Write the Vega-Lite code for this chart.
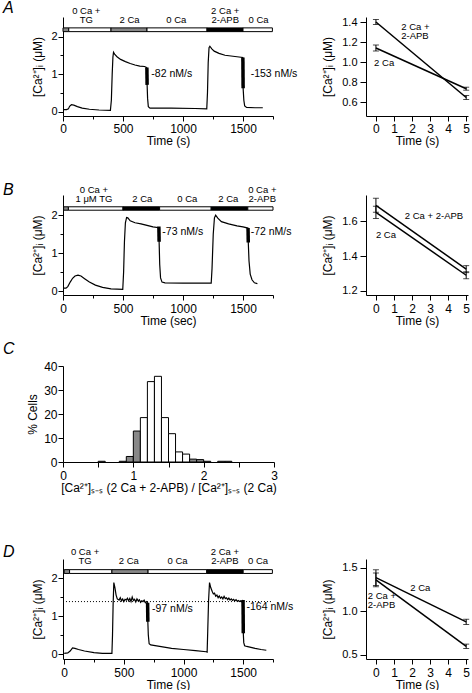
{
  "$schema": "https://vega.github.io/schema/vega-lite/v6.json",
  "padding": {"left": 2, "top": 0, "right": 0, "bottom": 0},
  "background": "white",
  "config": {
    "font": "Liberation Sans",
    "view": {"stroke": null},
    "axis": {"domainColor": "black", "tickColor": "black", "labelColor": "black", "titleColor": "black", "grid": false, "labelFontSize": 11, "titleFontSize": 12, "titleFontWeight": "normal", "labelFlush": false, "labelOverlap": false, "tickSize": 5, "labelPadding": 2, "domainWidth": 1, "tickWidth": 1, "tickCount": 50, "labelFont": "Liberation Sans", "titleFont": "Liberation Sans"},
    "axisX": {"titlePadding": 1, "labelFontSize": 12, "labelPadding": 2, "labelOverlap": false},
    "axisY": {"titlePadding": 6, "labelPadding": 1},
    "text": {"font": "Liberation Sans", "color": "black"}
  },
  "datasets": {
    "traceA": [
      {"t":0,"y":0.05},{"t":30,"y":0.05},{"t":45,"y":0.07},{"t":55,"y":0.14},{"t":70,"y":0.18},{"t":90,"y":0.17},{"t":120,"y":0.13},{"t":160,"y":0.09},{"t":220,"y":0.06},{"t":300,"y":0.04},{"t":395,"y":0.03},{"t":403,"y":0.3},{"t":410,"y":1.0},{"t":416,"y":1.45},{"t":421,"y":1.58},{"t":430,"y":1.53},{"t":450,"y":1.46},{"t":480,"y":1.39},{"t":520,"y":1.33},{"t":560,"y":1.28},{"t":600,"y":1.24},{"t":640,"y":1.21},{"t":680,"y":1.2},{"t":698,"y":1.17},{"t":701,"y":0.71},{"t":705,"y":0.35},{"t":711,"y":0.13},{"t":725,"y":0.09},{"t":900,"y":0.09},{"t":1100,"y":0.08},{"t":1198,"y":0.07},{"t":1204,"y":0.5},{"t":1210,"y":1.3},{"t":1217,"y":1.7},{"t":1224,"y":1.74},{"t":1240,"y":1.67},{"t":1260,"y":1.61},{"t":1300,"y":1.55},{"t":1350,"y":1.5},{"t":1400,"y":1.48},{"t":1450,"y":1.46},{"t":1498,"y":1.44},{"t":1501,"y":0.62},{"t":1507,"y":0.3},{"t":1514,"y":0.15},{"t":1530,"y":0.11},{"t":1600,"y":0.1},{"t":1665,"y":0.1}
    ],
    "thickA": [
      {"seg":"a","t":699,"y":1.17},{"seg":"a","t":701,"y":0.71},
      {"seg":"b","t":1499,"y":1.44},{"seg":"b","t":1501,"y":0.62}
    ],
    "barsA": [
      {"s":0,"e":48,"c":"TG"},{"s":48,"e":400,"c":"0 Ca"},{"s":400,"e":700,"c":"2 Ca"},{"s":700,"e":1200,"c":"0 Ca"},{"s":1200,"e":1500,"c":"2 Ca + 2-APB"},{"s":1500,"e":1745,"c":"0 Ca"}
    ],
    "labelsA": [
      {"t":194,"l1":"0 Ca +","l2":"TG"},{"t":555,"l1":"","l2":"2 Ca"},{"t":944,"l1":"","l2":"0 Ca"},{"t":1352,"l1":"2 Ca +","l2":"2-APB"},{"t":1630,"l1":"","l2":"0 Ca"}
    ],
    "annA": [
      {"t":736,"y":1.01,"text":"-82 nM/s"},{"t":1564,"y":1.01,"text":"-153 nM/s"}
    ],
    "rightA": [
      {"series":"apb","t":0,"y":1.40,"err":0.025},{"series":"apb","t":5,"y":0.645,"err":0.02},
      {"series":"ca","t":0,"y":1.14,"err":0.03},{"series":"ca","t":5,"y":0.733,"err":0.015}
    ],
    "rlabA": [
      {"t":1.4,"y":1.26,"l1":"2 Ca +","l2":"2-APB"},{"t":-0.1,"y":0.995,"l1":"","l2":"2 Ca"}
    ],
    "traceB": [
      {"t":0,"y":0.08},{"t":25,"y":0.08},{"t":40,"y":0.12},{"t":60,"y":0.24},{"t":80,"y":0.34},{"t":100,"y":0.4},{"t":125,"y":0.42},{"t":150,"y":0.4},{"t":180,"y":0.33},{"t":220,"y":0.24},{"t":270,"y":0.16},{"t":330,"y":0.1},{"t":400,"y":0.06},{"t":498,"y":0.05},{"t":505,"y":0.5},{"t":512,"y":1.3},{"t":520,"y":1.8},{"t":530,"y":1.94},{"t":540,"y":1.93},{"t":560,"y":1.85},{"t":600,"y":1.8},{"t":650,"y":1.77},{"t":700,"y":1.73},{"t":750,"y":1.69},{"t":798,"y":1.67},{"t":801,"y":1.3},{"t":806,"y":0.7},{"t":813,"y":0.35},{"t":825,"y":0.24},{"t":850,"y":0.22},{"t":1000,"y":0.21},{"t":1150,"y":0.21},{"t":1235,"y":0.21},{"t":1242,"y":0.6},{"t":1252,"y":1.5},{"t":1262,"y":1.93},{"t":1272,"y":2.0},{"t":1290,"y":1.92},{"t":1320,"y":1.83},{"t":1380,"y":1.77},{"t":1450,"y":1.72},{"t":1500,"y":1.69},{"t":1541,"y":1.66},{"t":1544,"y":1.28},{"t":1550,"y":0.8},{"t":1560,"y":0.45},{"t":1575,"y":0.3},{"t":1595,"y":0.22},{"t":1620,"y":0.2}
    ],
    "thickB": [
      {"seg":"a","t":799,"y":1.7},{"seg":"a","t":801,"y":1.3},
      {"seg":"b","t":1542,"y":1.66},{"seg":"b","t":1544,"y":1.28}
    ],
    "barsB": [
      {"s":5,"e":45,"c":"TG"},{"s":45,"e":500,"c":"0 Ca"},{"s":500,"e":805,"c":"2 Ca"},{"s":805,"e":1235,"c":"0 Ca"},{"s":1235,"e":1540,"c":"2 Ca"},{"s":1540,"e":1750,"c":"0 Ca + 2-APB"}
    ],
    "labelsB": [
      {"t":258,"l1":"0 Ca +","l2":"1 μM TG"},{"t":661,"l1":"","l2":"2 Ca"},{"t":1036,"l1":"","l2":"0 Ca"},{"t":1378,"l1":"","l2":"2 Ca"},{"t":1661,"l1":"0 Ca +","l2":"2-APB"}
    ],
    "annB": [
      {"t":828,"y":1.55,"text":"-73 nM/s"},{"t":1564,"y":1.55,"text":"-72 nM/s"}
    ],
    "rightB": [
      {"series":"apb","t":0,"y":1.69,"err":0.04},{"series":"apb","t":5,"y":1.325,"err":0.02},
      {"series":"ca","t":0,"y":1.65,"err":0.035},{"series":"ca","t":5,"y":1.29,"err":0.02}
    ],
    "rlabB": [
      {"t":1.6,"y":1.627,"l1":"","l2":"2 Ca + 2-APB"},{"t":0.0,"y":1.518,"l1":"","l2":"2 Ca"}
    ],
    "hist": [
      {"lo":0.5,"hi":0.6,"pct":0.3,"g":"in"},
      {"lo":0.8,"hi":0.9,"pct":0.3,"g":"in"},
      {"lo":0.9,"hi":1.0,"pct":2.3,"g":"out"},
      {"lo":1.0,"hi":1.1,"pct":12.9,"g":"out"},
      {"lo":1.1,"hi":1.2,"pct":18.5,"g":"in"},
      {"lo":1.2,"hi":1.3,"pct":33.5,"g":"in"},
      {"lo":1.3,"hi":1.4,"pct":35.7,"g":"in"},
      {"lo":1.4,"hi":1.5,"pct":18.5,"g":"in"},
      {"lo":1.5,"hi":1.6,"pct":11.8,"g":"in"},
      {"lo":1.6,"hi":1.7,"pct":4.2,"g":"in"},
      {"lo":1.7,"hi":1.8,"pct":3.3,"g":"in"},
      {"lo":1.8,"hi":1.9,"pct":1.2,"g":"out"},
      {"lo":1.9,"hi":2.0,"pct":1.0,"g":"out"},
      {"lo":2.0,"hi":2.1,"pct":0.3,"g":"in"},
      {"lo":2.2,"hi":2.3,"pct":0.3,"g":"in"},
      {"lo":2.3,"hi":2.4,"pct":0.3,"g":"in"}
    ],
    "traceD": [
      {"t":0,"y":0.02},{"t":30,"y":0.03},{"t":50,"y":0.08},{"t":70,"y":0.16},{"t":90,"y":0.15},{"t":120,"y":0.12},{"t":170,"y":0.08},{"t":250,"y":0.04},{"t":320,"y":0.02},{"t":400,"y":0.02},{"t":405,"y":0.5},{"t":410,"y":1.3},{"t":416,"y":1.88},{"t":425,"y":1.75},{"t":435,"y":1.55},{"t":445,"y":1.45},{"t":460,"y":1.42},{"t":470,"y":1.48},{"t":480,"y":1.4},{"t":490,"y":1.45},{"t":500,"y":1.38},{"t":510,"y":1.44},{"t":520,"y":1.42},{"t":530,"y":1.47},{"t":540,"y":1.4},{"t":550,"y":1.46},{"t":560,"y":1.38},{"t":570,"y":1.5},{"t":580,"y":1.41},{"t":590,"y":1.44},{"t":600,"y":1.37},{"t":610,"y":1.45},{"t":620,"y":1.4},{"t":630,"y":1.43},{"t":640,"y":1.36},{"t":650,"y":1.4},{"t":660,"y":1.38},{"t":670,"y":1.42},{"t":680,"y":1.35},{"t":690,"y":1.38},{"t":698,"y":1.35},{"t":701,"y":0.85},{"t":705,"y":0.5},{"t":712,"y":0.27},{"t":725,"y":0.24},{"t":800,"y":0.2},{"t":900,"y":0.15},{"t":1000,"y":0.12},{"t":1100,"y":0.09},{"t":1190,"y":0.06},{"t":1198,"y":0.05},{"t":1203,"y":0.6},{"t":1210,"y":1.4},{"t":1218,"y":1.88},{"t":1228,"y":1.75},{"t":1240,"y":1.65},{"t":1250,"y":1.58},{"t":1260,"y":1.6},{"t":1270,"y":1.52},{"t":1280,"y":1.55},{"t":1290,"y":1.48},{"t":1300,"y":1.53},{"t":1310,"y":1.47},{"t":1320,"y":1.5},{"t":1330,"y":1.45},{"t":1340,"y":1.52},{"t":1350,"y":1.46},{"t":1360,"y":1.48},{"t":1370,"y":1.43},{"t":1380,"y":1.47},{"t":1390,"y":1.42},{"t":1400,"y":1.45},{"t":1410,"y":1.41},{"t":1420,"y":1.44},{"t":1430,"y":1.4},{"t":1440,"y":1.43},{"t":1450,"y":1.39},{"t":1460,"y":1.41},{"t":1470,"y":1.38},{"t":1480,"y":1.4},{"t":1490,"y":1.37},{"t":1498,"y":1.42},{"t":1501,"y":0.55},{"t":1505,"y":0.3},{"t":1512,"y":0.22},{"t":1530,"y":0.2},{"t":1600,"y":0.15},{"t":1650,"y":0.12},{"t":1694,"y":0.1}
    ],
    "thickD": [
      {"seg":"a","t":699,"y":1.35},{"seg":"a","t":701,"y":0.85},
      {"seg":"b","t":1499,"y":1.42},{"seg":"b","t":1501,"y":0.55}
    ],
    "barsD": [
      {"s":0,"e":45,"c":"TG"},{"s":45,"e":400,"c":"0 Ca"},{"s":400,"e":703,"c":"2 Ca"},{"s":703,"e":1195,"c":"0 Ca"},{"s":1195,"e":1500,"c":"2 Ca + 2-APB"},{"s":1500,"e":1745,"c":"0 Ca"}
    ],
    "labelsD": [
      {"t":175,"l1":"0 Ca +","l2":"TG"},{"t":542,"l1":"","l2":"2 Ca"},{"t":950,"l1":"","l2":"0 Ca"},{"t":1347,"l1":"2 Ca +","l2":"2-APB"},{"t":1625,"l1":"","l2":"0 Ca"}
    ],
    "annD": [
      {"t":736,"y":1.19,"text":"-97 nM/s"},{"t":1528,"y":1.24,"text":"-164 nM/s"}
    ],
    "rightD": [
      {"series":"ca","t":0,"y":1.385,"err":0.09},{"series":"ca","t":5,"y":0.877,"err":0.03},
      {"series":"apb","t":0,"y":1.36,"err":0.08},{"series":"apb","t":5,"y":0.596,"err":0.025}
    ],
    "rlabD": [
      {"t":1.9,"y":1.27,"l1":"","l2":"2 Ca"},{"t":-0.45,"y":1.07,"l1":"2 Ca +","l2":"2-APB"}
    ]
  },
  "resolve": {"scale": {"fill": "independent"}},
  "vconcat": [
    {
      "resolve": {"scale": {"fill": "independent"}},
      "vconcat": [
        {
          "resolve": {"scale": {"fill": "independent"}},
          "vconcat": [
            {
              "resolve": {"scale": {"fill": "independent"}},
              "hconcat": [
                {
                  "width": 210, "height": 99,
                  "layer": [
                    {"data": {"name": "traceA"}, "mark": {"type": "line", "color": "black", "strokeWidth": 1.2},
                     "encoding": {
                       "x": {"field": "t", "type": "quantitative", "title": "Time (s)", "scale": {"domain": [0, 1750], "nice": false, "zero": false},
                             "axis": {"values": [0,250,500,750,1000,1250,1500,1750], "tickCount": 50, "format": "d", "labelExpr": "datum.value % 500 === 0 ? datum.label : ''", "tickSize": {"condition": {"test": "datum.value % 500 === 0", "value": 5}, "value": 3}}},
                       "y": {"field": "y", "type": "quantitative", "title": "[Ca²⁺]ᵢ (μM)", "scale": {"domain": [-0.12, 2.52], "nice": false, "zero": false},
                             "axis": {"values": [0,0.5,1,1.5,2], "tickCount": 50, "labelExpr": "datum.value % 1 === 0 ? format(datum.value, 'd') : ''", "tickSize": {"condition": {"test": "datum.value % 1 === 0", "value": 5}, "value": 3}}}
                     }},
                    {"data": {"name": "thickA"}, "mark": {"type": "line", "color": "black", "strokeWidth": 3.5},
                     "encoding": {"x": {"field": "t", "type": "quantitative"}, "y": {"field": "y", "type": "quantitative"}, "detail": {"field": "seg"}}},
                    {"data": {"name": "barsA"}, "mark": {"type": "rect", "stroke": "black", "strokeWidth": 1},
                     "encoding": {"x": {"field": "s", "type": "quantitative"}, "x2": {"field": "e"}, "y": {"datum": 2.13}, "y2": {"datum": 2.23},
                                  "fill": {"field": "c", "type": "nominal", "legend": null, "scale": {"domain": ["TG", "0 Ca", "2 Ca", "2 Ca + 2-APB"], "range": ["#888888", "white", "#888888", "black"]}}}},
                    {"data": {"name": "labelsA"}, "mark": {"type": "text", "fontSize": 9.5, "baseline": "bottom", "align": "center"},
                     "encoding": {"x": {"field": "t", "type": "quantitative"}, "y": {"datum": 2.3}, "text": {"field": "l2"}}},
                    {"data": {"name": "labelsA"}, "mark": {"type": "text", "fontSize": 9.5, "baseline": "bottom", "align": "center", "dy": -9},
                     "encoding": {"x": {"field": "t", "type": "quantitative"}, "y": {"datum": 2.3}, "text": {"field": "l1"}}},
                    {"data": {"name": "annA"}, "mark": {"type": "text", "fontSize": 10.5, "align": "left", "baseline": "middle"},
                     "encoding": {"x": {"field": "t", "type": "quantitative"}, "y": {"field": "y", "type": "quantitative"}, "text": {"field": "text"}}},
                    {"data": {"values": [{"panel": "A"}]}, "mark": {"type": "text", "fontSize": 16, "fontStyle": "italic", "align": "left", "baseline": "middle"},
                     "encoding": {"x": {"datum": -500}, "y": {"datum": 2.76}, "text": {"field": "panel"}}}
                  ]
                },
                {
                  "width": 102, "height": 99,
                  "layer": [
                    {"data": {"name": "rightA"}, "mark": {"type": "line", "color": "black", "strokeWidth": 1.5},
                     "encoding": {
                       "x": {"field": "t", "type": "quantitative", "title": "Time (s)", "scale": {"domain": [-0.55, 5.1], "nice": false, "zero": false}, "axis": {"values": [0,1,2,3,4,5], "tickCount": 50, "format": "d", "labelOverlap": false}},
                       "y": {"field": "y", "type": "quantitative", "title": "[Ca²⁺]ᵢ (μM)", "scale": {"domain": [0.46, 1.45], "nice": false, "zero": false}, "axis": {"values": [0.6,0.8,1.0,1.2,1.4], "tickCount": 50, "format": ".1f", "tickSize": 6, "labelPadding": 3, "titlePadding": 7}},
                       "detail": {"field": "series"}
                     }},
                    {"data": {"name": "rightA"}, "mark": {"type": "errorbar", "ticks": {"size": 6}, "color": "black"},
                     "encoding": {"x": {"field": "t", "type": "quantitative", "title": "Time (s)", "axis": {"values": [0,1,2,3,4,5], "tickCount": 50, "format": "d", "labelOverlap": false}}, "y": {"field": "y", "type": "quantitative", "title": "[Ca²⁺]ᵢ (μM)", "axis": {"values": [0.6,0.8,1.0,1.2,1.4], "tickCount": 50, "format": ".1f", "tickSize": 6, "labelPadding": 3, "titlePadding": 7}}, "yError": {"field": "err"}}},
                    {"data": {"name": "rlabA"}, "mark": {"type": "text", "fontSize": 9.5, "align": "left", "baseline": "middle"},
                     "encoding": {"x": {"field": "t", "type": "quantitative"}, "y": {"field": "y", "type": "quantitative"}, "text": {"field": "l2"}}},
                    {"data": {"name": "rlabA"}, "mark": {"type": "text", "fontSize": 9.5, "align": "left", "baseline": "middle", "dy": -9},
                     "encoding": {"x": {"field": "t", "type": "quantitative"}, "y": {"field": "y", "type": "quantitative"}, "text": {"field": "l1"}}}
                  ]
                }
              ],
              "spacing": 23
            },
            {
              "resolve": {"scale": {"fill": "independent"}},
              "hconcat": [
                {
                  "width": 210, "height": 100,
                  "layer": [
                    {"data": {"name": "traceB"}, "mark": {"type": "line", "color": "black", "strokeWidth": 1.2},
                     "encoding": {
                       "x": {"field": "t", "type": "quantitative", "title": "Time (sec)", "scale": {"domain": [0, 1750], "nice": false, "zero": false},
                             "axis": {"values": [0,250,500,750,1000,1250,1500,1750], "tickCount": 50, "format": "d", "labelPadding": 3, "labelExpr": "datum.value % 500 === 0 ? datum.label : ''", "tickSize": {"condition": {"test": "datum.value % 500 === 0", "value": 5}, "value": 3}}},
                       "y": {"field": "y", "type": "quantitative", "title": "[Ca²⁺]ᵢ (μM)", "scale": {"domain": [-0.1, 2.53], "nice": false, "zero": false},
                             "axis": {"values": [0,0.5,1,1.5,2], "tickCount": 50, "labelExpr": "datum.value % 1 === 0 ? format(datum.value, 'd') : ''", "tickSize": {"condition": {"test": "datum.value % 1 === 0", "value": 5}, "value": 3}}}
                     }},
                    {"data": {"name": "thickB"}, "mark": {"type": "line", "color": "black", "strokeWidth": 3.5},
                     "encoding": {"x": {"field": "t", "type": "quantitative"}, "y": {"field": "y", "type": "quantitative"}, "detail": {"field": "seg"}}},
                    {"data": {"name": "barsB"}, "mark": {"type": "rect", "stroke": "black", "strokeWidth": 1},
                     "encoding": {"x": {"field": "s", "type": "quantitative"}, "x2": {"field": "e"}, "y": {"datum": 2.13}, "y2": {"datum": 2.22},
                                  "fill": {"field": "c", "type": "nominal", "legend": null, "scale": {"domain": ["TG", "0 Ca", "2 Ca", "0 Ca + 2-APB"], "range": ["#888888", "white", "black", "white"]}}}},
                    {"data": {"name": "labelsB"}, "mark": {"type": "text", "fontSize": 9.5, "baseline": "bottom", "align": "center"},
                     "encoding": {"x": {"field": "t", "type": "quantitative"}, "y": {"datum": 2.29}, "text": {"field": "l2"}}},
                    {"data": {"name": "labelsB"}, "mark": {"type": "text", "fontSize": 9.5, "baseline": "bottom", "align": "center", "dy": -9},
                     "encoding": {"x": {"field": "t", "type": "quantitative"}, "y": {"datum": 2.29}, "text": {"field": "l1"}}},
                    {"data": {"name": "annB"}, "mark": {"type": "text", "fontSize": 10.5, "align": "left", "baseline": "middle"},
                     "encoding": {"x": {"field": "t", "type": "quantitative"}, "y": {"field": "y", "type": "quantitative"}, "text": {"field": "text"}}},
                    {"data": {"values": [{"panel": "B"}]}, "mark": {"type": "text", "fontSize": 16, "fontStyle": "italic", "align": "left", "baseline": "middle"},
                     "encoding": {"x": {"datum": -500}, "y": {"datum": 2.66}, "text": {"field": "panel"}}}
                  ]
                },
                {
                  "width": 102, "height": 100,
                  "layer": [
                    {"data": {"name": "rightB"}, "mark": {"type": "line", "color": "black", "strokeWidth": 1.5},
                     "encoding": {
                       "x": {"field": "t", "type": "quantitative", "title": "Time (s)", "scale": {"domain": [-0.55, 5.1], "nice": false, "zero": false}, "axis": {"values": [0,1,2,3,4,5], "tickCount": 50, "format": "d", "labelOverlap": false, "labelPadding": 3}},
                       "y": {"field": "y", "type": "quantitative", "title": "[Ca²⁺]ᵢ (μM)", "scale": {"domain": [1.177, 1.749], "nice": false, "zero": false}, "axis": {"values": [1.2,1.4,1.6], "tickCount": 50, "format": ".1f", "tickSize": 6, "labelPadding": 3, "titlePadding": 7}},
                       "detail": {"field": "series"}
                     }},
                    {"data": {"name": "rightB"}, "mark": {"type": "errorbar", "ticks": {"size": 6}, "color": "black"},
                     "encoding": {"x": {"field": "t", "type": "quantitative", "title": "Time (s)", "axis": {"values": [0,1,2,3,4,5], "tickCount": 50, "format": "d", "labelOverlap": false, "labelPadding": 3}}, "y": {"field": "y", "type": "quantitative", "title": "[Ca²⁺]ᵢ (μM)", "axis": {"values": [1.2,1.4,1.6], "tickCount": 50, "format": ".1f", "tickSize": 6, "labelPadding": 3, "titlePadding": 7}}, "yError": {"field": "err"}}},
                    {"data": {"name": "rlabB"}, "mark": {"type": "text", "fontSize": 9.5, "align": "left", "baseline": "middle"},
                     "encoding": {"x": {"field": "t", "type": "quantitative"}, "y": {"field": "y", "type": "quantitative"}, "text": {"field": "l2"}}}
                  ]
                }
              ],
              "spacing": 29
            }
          ],
          "spacing": 36
        },
        {
          "width": 211, "height": 96,
          "layer": [
            {"data": {"name": "hist"}, "mark": {"type": "rect", "stroke": "black", "strokeWidth": 1},
             "encoding": {
               "x": {"field": "lo", "type": "quantitative", "title": "[Ca²⁺]ₛ₋ₛ (2 Ca + 2-APB) / [Ca²⁺]ₛ₋ₛ (2 Ca)", "scale": {"domain": [0, 3], "nice": false, "zero": false},
                     "axis": {"values": [0,0.5,1,1.5,2,2.5,3], "tickCount": 50, "labelPadding": 3, "labelExpr": "datum.value % 1 === 0 ? format(datum.value, 'd') : ''"}},
               "x2": {"field": "hi"},
               "y": {"field": "pct", "type": "quantitative", "title": "% Cells", "scale": {"domain": [0, 40], "nice": false}, "axis": {"values": [0,10,20,30,40], "tickCount": 50, "labelFontSize": 12, "titlePadding": 4}},
               "y2": {"datum": 0},
               "fill": {"field": "g", "type": "nominal", "legend": null, "scale": {"domain": ["in", "out"], "range": ["white", "#888888"]}}
             }},
            {"data": {"values": [{"panel": "C"}]}, "mark": {"type": "text", "fontSize": 16, "fontStyle": "italic", "align": "left", "baseline": "middle"},
             "encoding": {"x": {"datum": -0.853}, "y": {"datum": 47}, "text": {"field": "panel"}}}
          ]
        }
      ],
      "spacing": 15
    },
    {
      "resolve": {"scale": {"fill": "independent"}},
      "hconcat": [
        {
          "width": 210, "height": 100,
          "layer": [
            {"data": {"name": "traceD"}, "mark": {"type": "line", "color": "black", "strokeWidth": 1.2},
             "encoding": {
               "x": {"field": "t", "type": "quantitative", "title": "Time (s)", "scale": {"domain": [-10, 1750], "nice": false, "zero": false},
                     "axis": {"values": [0,250,500,750,1000,1250,1500,1750], "tickCount": 50, "format": "d", "labelPadding": 3, "labelExpr": "datum.value % 500 === 0 ? datum.label : ''", "tickSize": {"condition": {"test": "datum.value % 500 === 0", "value": 5}, "value": 3}}},
               "y": {"field": "y", "type": "quantitative", "title": "[Ca²⁺]ᵢ (μM)", "scale": {"domain": [-0.13, 2.5], "nice": false, "zero": false},
                     "axis": {"values": [0,0.5,1,1.5,2], "tickCount": 50, "labelExpr": "datum.value % 1 === 0 ? format(datum.value, 'd') : ''", "tickSize": {"condition": {"test": "datum.value % 1 === 0", "value": 5}, "value": 3}}}
             }},
            {"data": {"name": "thickD"}, "mark": {"type": "line", "color": "black", "strokeWidth": 3.5},
             "encoding": {"x": {"field": "t", "type": "quantitative"}, "y": {"field": "y", "type": "quantitative"}, "detail": {"field": "seg"}}},
            {"data": {"values": [{"level": 1.38}]}, "mark": {"type": "rule", "color": "black", "strokeWidth": 1, "strokeDash": [1, 2]},
             "encoding": {"x": {"datum": 15}, "x2": {"datum": 1740}, "y": {"field": "level", "type": "quantitative"}}},
            {"data": {"name": "barsD"}, "mark": {"type": "rect", "stroke": "black", "strokeWidth": 1},
             "encoding": {"x": {"field": "s", "type": "quantitative"}, "x2": {"field": "e"}, "y": {"datum": 2.12}, "y2": {"datum": 2.22},
                          "fill": {"field": "c", "type": "nominal", "legend": null, "scale": {"domain": ["TG", "0 Ca", "2 Ca", "2 Ca + 2-APB"], "range": ["#888888", "white", "#888888", "black"]}}}},
            {"data": {"name": "labelsD"}, "mark": {"type": "text", "fontSize": 9.5, "baseline": "bottom", "align": "center"},
             "encoding": {"x": {"field": "t", "type": "quantitative"}, "y": {"datum": 2.31}, "text": {"field": "l2"}}},
            {"data": {"name": "labelsD"}, "mark": {"type": "text", "fontSize": 9.5, "baseline": "bottom", "align": "center", "dy": -9},
             "encoding": {"x": {"field": "t", "type": "quantitative"}, "y": {"datum": 2.31}, "text": {"field": "l1"}}},
            {"data": {"name": "annD"}, "mark": {"type": "text", "fontSize": 10.5, "align": "left", "baseline": "middle"},
             "encoding": {"x": {"field": "t", "type": "quantitative"}, "y": {"field": "y", "type": "quantitative"}, "text": {"field": "text"}}},
            {"data": {"values": [{"panel": "D"}]}, "mark": {"type": "text", "fontSize": 16, "fontStyle": "italic", "align": "left", "baseline": "middle"},
             "encoding": {"x": {"datum": -513}, "y": {"datum": 2.68}, "text": {"field": "panel"}}}
          ]
        },
        {
          "width": 102, "height": 100,
          "layer": [
            {"data": {"name": "rightD"}, "mark": {"type": "line", "color": "black", "strokeWidth": 1.5},
             "encoding": {
               "x": {"field": "t", "type": "quantitative", "title": "Time (s)", "scale": {"domain": [-0.55, 5.1], "nice": false, "zero": false}, "axis": {"values": [0,1,2,3,4,5], "tickCount": 50, "format": "d", "labelOverlap": false, "labelPadding": 3}},
               "y": {"field": "y", "type": "quantitative", "title": "[Ca²⁺]ᵢ (μM)", "scale": {"domain": [0.45, 1.6], "nice": false, "zero": false}, "axis": {"values": [0.5,1.0,1.5], "tickCount": 50, "format": ".1f", "tickSize": 6, "labelPadding": 3, "titlePadding": 7}},
               "detail": {"field": "series"}
             }},
            {"data": {"name": "rightD"}, "mark": {"type": "errorbar", "ticks": {"size": 6}, "color": "black"},
             "encoding": {"x": {"field": "t", "type": "quantitative", "title": "Time (s)", "axis": {"values": [0,1,2,3,4,5], "tickCount": 50, "format": "d", "labelOverlap": false, "labelPadding": 3}}, "y": {"field": "y", "type": "quantitative", "title": "[Ca²⁺]ᵢ (μM)", "axis": {"values": [0.5,1.0,1.5], "tickCount": 50, "format": ".1f", "tickSize": 6, "labelPadding": 3, "titlePadding": 7}}, "yError": {"field": "err"}}},
            {"data": {"name": "rlabD"}, "mark": {"type": "text", "fontSize": 9.5, "align": "left", "baseline": "middle"},
             "encoding": {"x": {"field": "t", "type": "quantitative"}, "y": {"field": "y", "type": "quantitative"}, "text": {"field": "l2"}}},
            {"data": {"name": "rlabD"}, "mark": {"type": "text", "fontSize": 9.5, "align": "left", "baseline": "middle", "dy": -9},
             "encoding": {"x": {"field": "t", "type": "quantitative"}, "y": {"field": "y", "type": "quantitative"}, "text": {"field": "l1"}}}
          ]
        }
      ],
      "spacing": 27
    }
  ],
  "spacing": 51
}
